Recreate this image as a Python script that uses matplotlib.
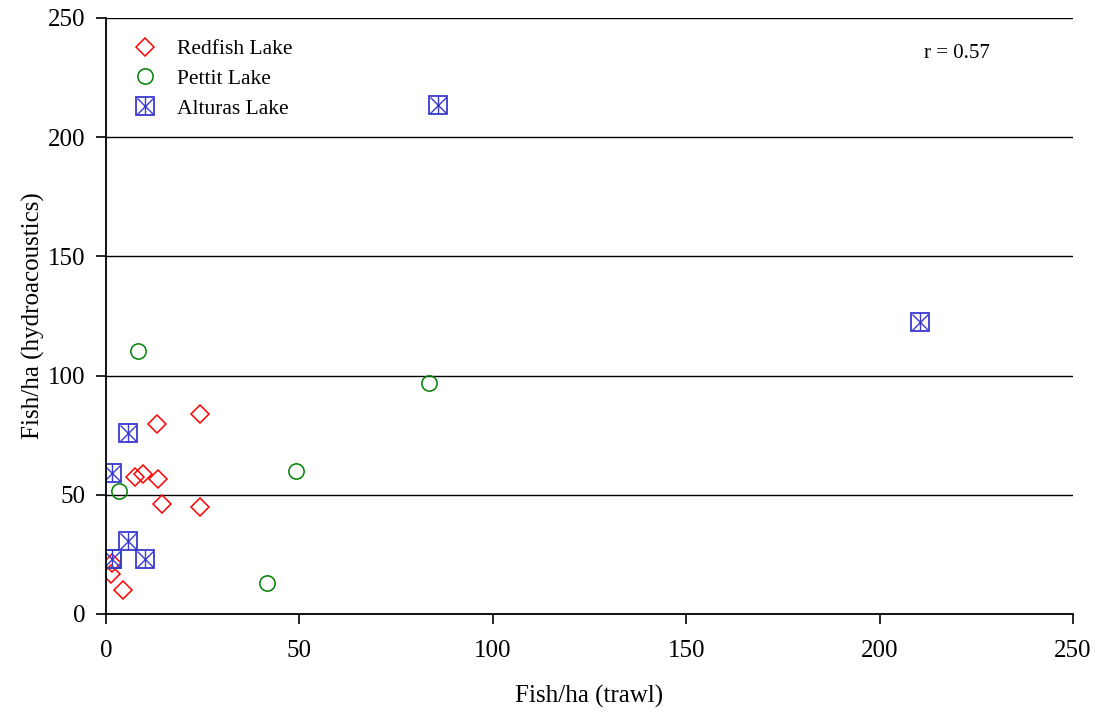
import matplotlib.pyplot as plt
from matplotlib.legend_handler import HandlerTuple

plt.rcParams['font.family'] = ['Liberation Serif', 'DejaVu Serif']

# trawl vs hydroacoustic density estimates (fish/ha)
redfish_trawl = [13.1, 24.2, 7.6, 9.6, 13.4, 14.5, 24.2, 1.3, 4.3, 1.5]
redfish_hydro = [79.8, 84.0, 57.4, 58.9, 56.5, 46.3, 44.9, 16.6, 10.0, 21.2]

pettit_trawl = [8.3, 49.1, 3.4, 41.7, 83.5]
pettit_hydro = [110.5, 59.8, 51.5, 12.8, 96.7]
pettit_sq_trawl = [1.6]
pettit_sq_hydro = [22.9]

alturas_trawl = [5.8, 1.6, 5.8, 1.6, 10.1, 85.8, 210.3]
alturas_hydro = [75.9, 59.1, 30.5, 22.9, 22.9, 213.4, 122.6]

r_text = "r = 0.57"
ticks = [0, 50, 100, 150, 200, 250]

red = '#ff0000'
green = '#008000'
blue = '#3a3ad0'

fig = plt.figure(figsize=(10.99, 7.13), dpi=100)
ax = fig.add_axes([0.0965, 0.1389, 0.8799, 0.8359])

for y in ticks[1:]:
    ax.axhline(y, color='black', lw=1.0, zorder=0)

h_red, = ax.plot(redfish_trawl, redfish_hydro, ls='none', marker='D', ms=9,
                 mfc='none', mec=red, mew=1.1)
h_green, = ax.plot(pettit_trawl, pettit_hydro, ls='none', marker='o', ms=11,
                   mfc='none', mec=green, mew=1.1)
ax.plot(pettit_sq_trawl, pettit_sq_hydro, ls='none', marker='s', ms=13.5,
        mfc='none', mec=green, mew=1.3)
h_sq, = ax.plot(alturas_trawl, alturas_hydro, ls='none', marker='s', ms=13.5,
                mfc='none', mec=blue, mew=1.3)
h_x, = ax.plot(alturas_trawl, alturas_hydro, ls='none', marker='x', ms=11,
               mec=blue, mew=1.0)
h_v, = ax.plot(alturas_trawl, alturas_hydro, ls='none', marker='|', ms=13,
               mec=blue, mew=1.0)

ax.set_xlim(0, 250)
ax.set_ylim(0, 250)
ax.set_xticks(ticks)
ax.set_yticks(ticks)
ax.tick_params(direction='out', length=7, width=1.2, labelsize=18, color='black')
ax.tick_params(axis='x', pad=12)
ax.tick_params(axis='y', pad=8)
for s in ['top', 'right']:
    ax.spines[s].set_visible(False)
for s in ['left', 'bottom']:
    ax.spines[s].set_linewidth(1.3)

ax.set_xlabel("Fish/ha (trawl)", fontsize=18, labelpad=16)
ax.set_ylabel("Fish/ha (hydroacoustics)", fontsize=18, labelpad=2)

ax.legend([h_red, h_green, (h_sq, h_x, h_v)],
          ["Redfish Lake", "Pettit Lake", "Alturas Lake"],
          handler_map={tuple: HandlerTuple(ndivide=1, pad=0)},
          loc='upper left', bbox_to_anchor=(0.007, 0.997), frameon=False,
          fontsize=15.5, handlelength=1.2, handletextpad=0.9, labelspacing=0.45)

ax.text(0.88, 0.94, r_text, transform=ax.transAxes, fontsize=15,
        ha='center', va='center')

fig.savefig("out.png", dpi=100)
